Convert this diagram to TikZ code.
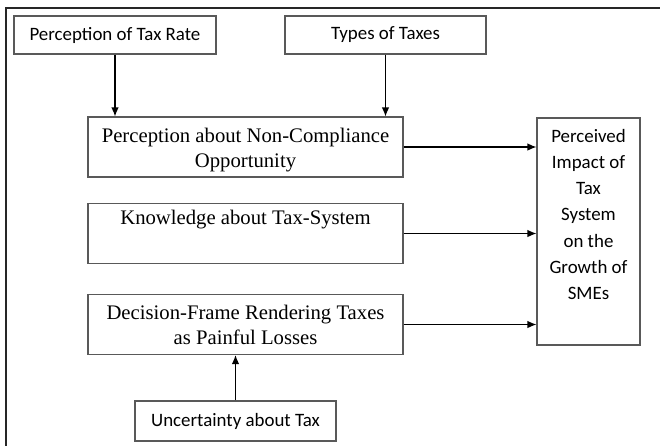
\documentclass[tikz,border=0pt]{standalone}
\usepackage{fontspec}
\setmainfont{Liberation Serif}
\newfontfamily\calfont{Carlito}
\usetikzlibrary{arrows.meta}

\begin{document}
\begin{tikzpicture}[x=1pt,y=-1pt,inner sep=0pt,
  sidebox/.style={draw=black!65, line width=1.1pt, align=center,
    font=\calfont\fontsize{18.9}{26.3}\selectfont},
  mainbox/.style={draw=black!65, line width=1.1pt, align=center,
    minimum width=315pt, minimum height=60pt,
    font=\fontsize{20.7}{25}\selectfont},
  link/.style={-{Latex[length=9pt,width=7.5pt]}, line width=1.2pt}]

\useasboundingbox (0,0) rectangle (660,445);

\draw [black!85, line width=2.5pt] (6,446) -- (6,8) -- (661,8);

\node [sidebox, minimum width=202pt, minimum height=38pt] (rate) at (115,35) {Perception of Tax Rate};
\node [sidebox, minimum width=201pt, minimum height=38pt] (types) at (385.5,35) {Types of Taxes};

\node [mainbox] (noncomp) at (245.5,147) {\rule{0pt}{20pt}Perception about Non-Compliance\\Opportunity};
\node [mainbox] (know) at (245.5,233.5) {Knowledge about Tax-System\\\strut};
\node [mainbox] (frame) at (245.5,324.5) {Decision-Frame Rendering Taxes\\as Painful Losses};

\node [sidebox, minimum width=201pt, minimum height=40pt] (uncert) at (235.5,421) {Uncertainty about Tax};

\node [sidebox, minimum width=103pt, minimum height=227pt] (impact) at (588.5,231.5) {Perceived\\Impact of\\Tax\\System\\on the\\Growth of\\SMEs\\\strut};

\draw [link] (rate.south) -- (rate.south |- noncomp.north);
\draw [link] (types.south) -- (types.south |- noncomp.north);
\draw [link] (uncert.north) -- (uncert.north |- frame.south);

\draw [link] (noncomp.east) -- (noncomp.east -| impact.west);
\draw [link] (know.east) -- (know.east -| impact.west);
\draw [link] (frame.east) -- (frame.east -| impact.west);

\end{tikzpicture}
\end{document}
